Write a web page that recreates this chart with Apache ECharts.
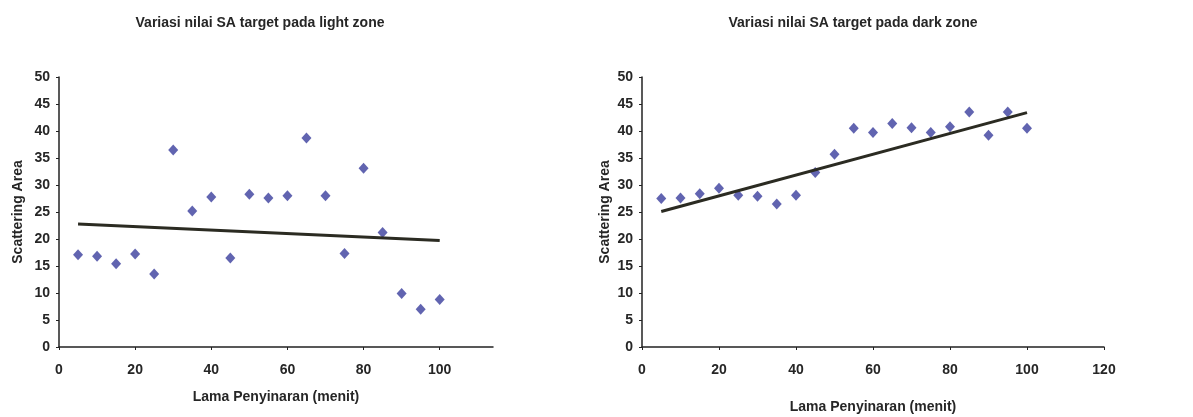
<!DOCTYPE html>
<html><head><meta charset="utf-8">
<script src="https://cdn.jsdelivr.net/npm/echarts@6/dist/echarts.min.js"></script>
<style>html,body{margin:0;padding:0;background:#fff}#c{width:1193px;height:417px}</style>
</head><body><div id="c"></div>
<script>
const minutes = [5,10,15,20,25,30,35,40,45,50,55,60,65,70,75,80,85,90,95,100];
const lightSA = [17.1,16.8,15.4,17.2,13.5,36.5,25.2,27.8,16.5,28.3,27.6,28.0,38.7,28.0,17.3,33.1,21.2,9.9,7.0,8.8];
const darkSA  = [27.5,27.6,28.4,29.4,28.1,27.9,26.5,28.1,32.3,35.7,40.5,39.7,41.4,40.6,39.7,40.8,43.5,39.2,43.5,40.5];
const lightTrendX = [5,100];
const lightTrendY = [22.8,19.7];
const darkTrendX = [5,100];
const darkTrendY = [25.1,43.4];
const titles = ['Variasi nilai SA target pada light zone','Variasi nilai SA target pada dark zone'];
const xName = 'Lama Penyinaran (menit)';
const yName = 'Scattering Area';
const xTicks = [0,20,40,60,80,100];
const xTicksRight = [0,20,40,60,80,100,120];

const pts = (xs, ys) => xs.map((x,i)=>[x, ys[i]]);
const font = 'Liberation Sans, Arial, sans-serif';
const txt = '#262626';

function xAxis(gi, max, ticks, nameGap){
  return {
    type:'value', gridIndex:gi, min:0, max:max,
    name:xName, nameLocation:'middle', nameGap:nameGap,
    nameTextStyle:{color:txt, fontSize:14, fontWeight:'bold', fontFamily:font},
    axisLine:{show:true, lineStyle:{color:'#222', width:1.5}},
    axisTick:{show:true, length:3, lineStyle:{color:'#222'}, customValues:ticks},
    axisLabel:{color:txt, fontSize:14, fontWeight:'bold', fontFamily:font, margin:16, customValues:ticks},
    splitLine:{show:false}
  };
}
function yAxis(gi, nameGap){
  return {
    type:'value', gridIndex:gi, min:0, max:50, interval:5,
    name:yName, nameLocation:'middle', nameGap:nameGap, nameRotate:90,
    nameTextStyle:{color:txt, fontSize:14, fontWeight:'bold', fontFamily:font},
    axisLine:{show:true, lineStyle:{color:'#222', width:1.5}},
    axisTick:{show:true, length:3, lineStyle:{color:'#222'}},
    axisLabel:{color:txt, fontSize:14, fontWeight:'bold', fontFamily:font, margin:9},
    splitLine:{show:false}
  };
}
const marker = {color:'#3a3d9c'};
const chart = echarts.init(document.getElementById('c'), null, {renderer:'canvas'});
chart.setOption({
  animation:false,
  backgroundColor:'#fff',
  title:[
    {text:titles[0], left:255, top:11, textAlign:'center', textStyle:{fontSize:14, fontWeight:'bold', color:txt, fontFamily:font}},
    {text:titles[1], left:848, top:11, textAlign:'center', textStyle:{fontSize:14, fontWeight:'bold', color:txt, fontFamily:font}}
  ],
  grid:[
    {left:59, right:700, top:77, bottom:70, containLabel:false, outerBoundsMode:'none'},
    {left:642, right:89, top:77, bottom:70, containLabel:false, outerBoundsMode:'none'}
  ],
  xAxis:[xAxis(0,114,xTicks,43), xAxis(1,120,xTicksRight,53)],
  yAxis:[yAxis(0,34), yAxis(1,30)],
  series:[
    {type:'line', xAxisIndex:0, yAxisIndex:0, data:pts(lightTrendX, lightTrendY), symbol:'none', lineStyle:{color:'#2b2b22', width:3}, z:3},
    {type:'scatter', xAxisIndex:0, yAxisIndex:0, data:pts(minutes, lightSA), symbol:'diamond', symbolSize:[10,11], itemStyle:marker, z:2},
    {type:'line', xAxisIndex:1, yAxisIndex:1, data:pts(darkTrendX, darkTrendY), symbol:'none', lineStyle:{color:'#2b2b22', width:3}, z:3},
    {type:'scatter', xAxisIndex:1, yAxisIndex:1, data:pts(minutes, darkSA), symbol:'diamond', symbolSize:[10,11], itemStyle:marker, z:2}
  ]
});
</script></body></html>
